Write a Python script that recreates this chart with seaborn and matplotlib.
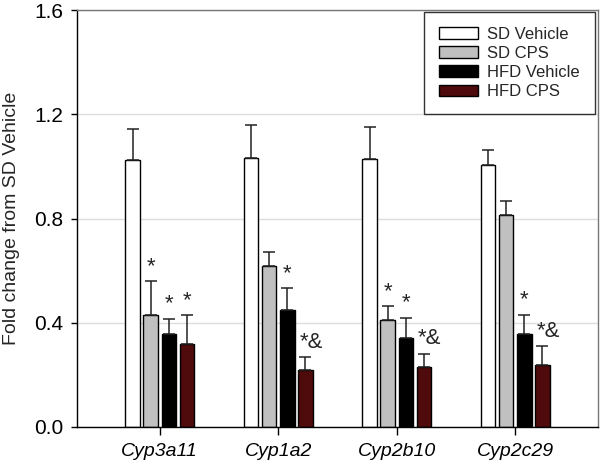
import matplotlib
matplotlib.use("Agg")
import matplotlib.pyplot as plt
import seaborn as sns
import pandas as pd
import numpy as np

# data
genes = ["Cyp3a11", "Cyp1a2", "Cyp2b10", "Cyp2c29"]
groups = ["SD Vehicle", "SD CPS", "HFD Vehicle", "HFD CPS"]
colors = ["#ffffff", "#c0c0c0", "#000000", "#5a0000"]

sd_vehicle = [1.025, 1.031, 1.027, 1.006]
sd_cps = [0.429, 0.617, 0.410, 0.815]
hfd_vehicle = [0.357, 0.450, 0.342, 0.355]
hfd_cps = [0.319, 0.219, 0.231, 0.237]

sd_vehicle_err = [0.120, 0.129, 0.126, 0.055]
sd_cps_err = [0.130, 0.053, 0.054, 0.051]
hfd_vehicle_err = [0.059, 0.082, 0.076, 0.075]
hfd_cps_err = [0.110, 0.050, 0.051, 0.073]

sig_sd_cps = ["*", "", "*", ""]
sig_hfd_vehicle = ["*", "*", "*", "*"]
sig_hfd_cps = ["*", "*&", "*&", "*&"]

means = [sd_vehicle, sd_cps, hfd_vehicle, hfd_cps]
errs = [sd_vehicle_err, sd_cps_err, hfd_vehicle_err, hfd_cps_err]
sigs = [["", "", "", ""], sig_sd_cps, sig_hfd_vehicle, sig_hfd_cps]

rows = []
for g, vals in zip(groups, means):
    for gene, v in zip(genes, vals):
        rows.append({"gene": gene, "group": g, "fold": v})
df = pd.DataFrame(rows)

sns.set_style("white")
plt.rcParams["font.family"] = ["Liberation Sans", "DejaVu Sans"]

fig, ax = plt.subplots(figsize=(6, 4.66), dpi=100)
fig.subplots_adjust(left=0.128, right=0.997, bottom=0.0837, top=0.9785)

sns.barplot(data=df, x="gene", y="fold", hue="group", order=genes,
            hue_order=groups, palette=colors, width=0.61, gap=0.2,
            edgecolor="black", linewidth=1, errorbar=None, ax=ax)

bar_conts = list(ax.containers)

# error bars (upper only) and significance marks
for i, cont in enumerate(bar_conts):
    xs = [b.get_x() + b.get_width() / 2 for b in cont]
    ax.errorbar(xs, means[i], yerr=[np.zeros(4), errs[i]], fmt="none",
                ecolor="#222222", elinewidth=1.1, capsize=4.5, capthick=1.1,
                zorder=1)
    for x, m, e, s in zip(xs, means[i], errs[i], sigs[i]):
        if s == "":
            continue
        if s == "*":
            ax.text(x, m + e + 0.036, s, ha="center", va="baseline", fontsize=16)
        else:
            ax.text(x - 0.05, m + e + 0.036, s, ha="left", va="baseline", fontsize=16)

ax.set_xlim(-0.7, 3.7)
ax.set_ylim(0, 1.6)
ax.set_yticks([0.0, 0.4, 0.8, 1.2, 1.6])
ax.set_yticklabels(["0.0", "0.4", "0.8", "1.2", "1.6"], fontsize=15)
ax.set_xticks(range(4))
ax.set_xticklabels(genes, fontsize=14, style="italic")
ax.set_xlabel("")
ax.set_ylabel("Fold change from SD Vehicle", fontsize=14, labelpad=10)
ax.tick_params(axis="both", direction="out", width=1, colors="black",
               bottom=True, left=True)
ax.tick_params(axis="x", length=5.5, pad=6)
ax.tick_params(axis="y", length=4.5, pad=5)
ax.yaxis.grid(True, color="#dddddd", linewidth=1)
ax.set_axisbelow(True)

for side in ["left", "bottom"]:
    ax.spines[side].set_color("black")
    ax.spines[side].set_linewidth(1)
for side in ["top", "right"]:
    ax.spines[side].set_color("#777777")
    ax.spines[side].set_linewidth(1)

handles = [c.patches[0] for c in bar_conts]
leg = ax.legend(handles, groups, loc="upper right", bbox_to_anchor=(0.993, 0.996),
                borderaxespad=0, fontsize=12, frameon=True, fancybox=False,
                handlelength=2.3, handleheight=0.7, labelspacing=0.25,
                handletextpad=0.55, borderpad=0.9)
leg.get_frame().set_edgecolor("black")
leg.get_frame().set_linewidth(1)

fig.savefig("out.png", dpi=100)
